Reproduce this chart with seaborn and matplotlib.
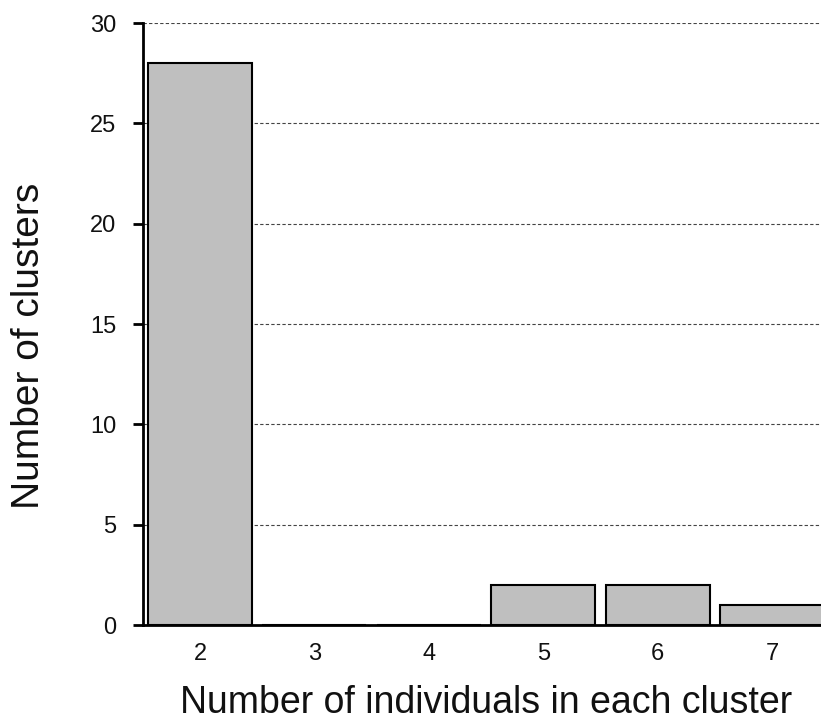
import numpy as np
import pandas as pd
import matplotlib
matplotlib.use('Agg')
import matplotlib.pyplot as plt
import seaborn as sns
from matplotlib.ticker import MultipleLocator

# cluster size -> number of clusters
cluster_size = ['2', '3', '4', '5', '6', '7']
n_clusters = [28, 0, 0, 2, 2, 1]

df = pd.DataFrame({'size': cluster_size, 'count': n_clusters})

sns.set_style('white')
plt.rcParams['font.family'] = ['Liberation Sans', 'DejaVu Sans']

fig = plt.figure(figsize=(8.21, 7.27), dpi=100)
ax = fig.add_axes([0.174, 0.1403, 0.836, 0.828])

sns.barplot(data=df, x='size', y='count', order=cluster_size, color='#bfbfbf',
            edgecolor='black', linewidth=1.5, width=0.91, saturation=1, ax=ax)

ax.set_xlim(-0.5, 5.5)
ax.set_ylim(0, 30)
ax.yaxis.set_major_locator(MultipleLocator(5))
ax.yaxis.grid(True, linestyle=(0, (3, 2)), color='#444444', linewidth=0.8)
ax.set_axisbelow(True)

for s in ['top', 'right']:
    ax.spines[s].set_visible(False)
ax.spines['left'].set_linewidth(2)
ax.spines['bottom'].set_linewidth(2)
ax.spines['left'].set_color('black')
ax.spines['bottom'].set_color('black')

ax.set_xticks(np.arange(6) + 0.5, minor=True)
ax.tick_params(axis='x', which='major', length=0, pad=13, labelsize=17, labelcolor='#111111')
ax.tick_params(axis='x', which='minor', length=7, width=2, direction='out', color='black')
ax.tick_params(axis='y', length=7, width=2, direction='out', color='black', left=True,
               labelsize=17, pad=12, labelcolor='#111111')

ax.set_xlabel('Number of individuals in each cluster', fontsize=27, labelpad=14, color='#111111')
ax.set_ylabel('Number of clusters', fontsize=28, color='#111111')
ax.yaxis.set_label_coords(-0.14, 0.463)

fig.savefig('out.png', dpi=100)
